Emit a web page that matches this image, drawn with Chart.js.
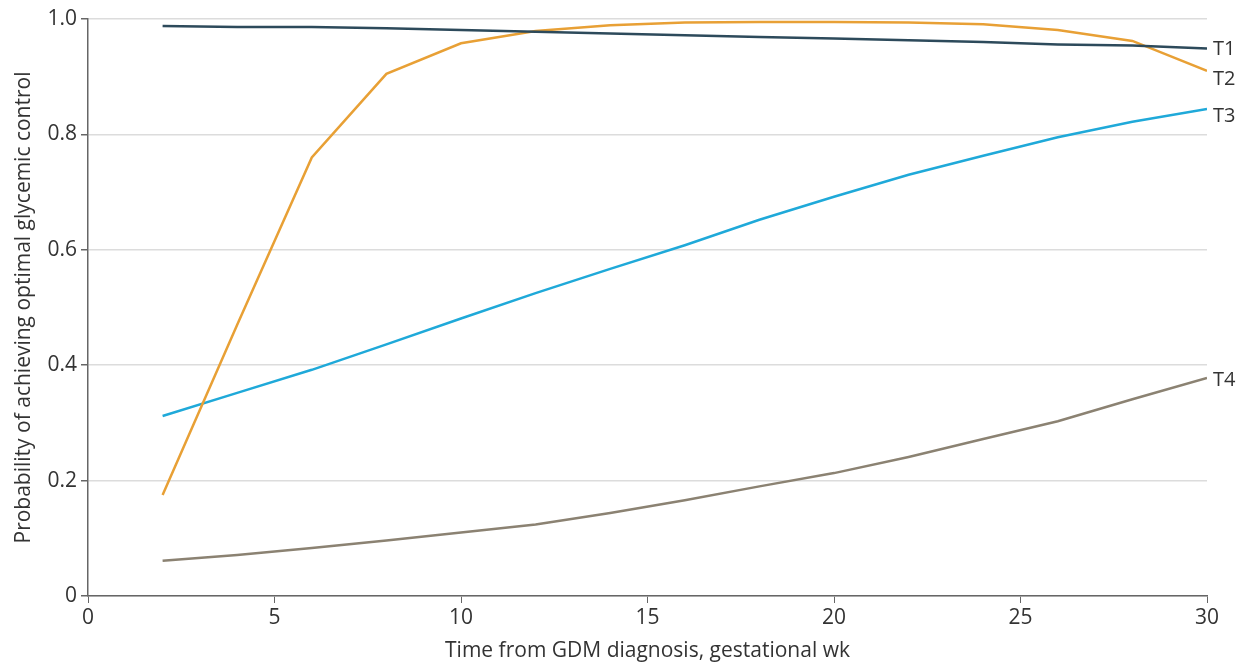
<!DOCTYPE html>
<html>
<head>
<meta charset="utf-8">
<script src="https://cdn.jsdelivr.net/npm/chart.js@4/dist/chart.umd.min.js"></script>
<style>
  html, body { margin: 0; padding: 0; background: #fff; }
  #wrap { width: 1243px; height: 668px; position: relative; }
</style>
</head>
<body>
<div id="wrap"><canvas id="chart"></canvas></div>
<script>
// Gestational weeks since GDM diagnosis
const weeks = [2, 4, 6, 8, 10, 12, 14, 16, 18, 20, 22, 24, 26, 28, 30];

// Probability of achieving optimal glycemic control, per trajectory
const t1 = [0.988, 0.986, 0.986, 0.984, 0.981, 0.978, 0.975, 0.972, 0.969, 0.966, 0.963, 0.960, 0.956, 0.954, 0.949];
const t2 = [0.175, 0.470, 0.760, 0.905, 0.958, 0.979, 0.989, 0.994, 0.995, 0.995, 0.994, 0.991, 0.981, 0.962, 0.910];
const t3 = [0.312, 0.352, 0.392, 0.436, 0.481, 0.525, 0.567, 0.608, 0.652, 0.692, 0.730, 0.763, 0.795, 0.822, 0.844];
const t4 = [0.061, 0.071, 0.083, 0.096, 0.110, 0.124, 0.144, 0.166, 0.190, 0.213, 0.241, 0.272, 0.303, 0.341, 0.378];

const seriesNames = ['T1', 'T2', 'T3', 'T4'];
const seriesColors = ['#2d4a5b', '#e8a035', '#1fa9d9', '#8b8272'];
// nudge for the end labels so T1/T2 don't collide
const labelOffsets = [1, 8, 7, 2];

const FONT = '"Open Sans", "Noto Sans", sans-serif';

function toPoints(vals) {
    return weeks.map((w, i) => ({ x: w, y: vals[i] }));
}

const endLabels = {
    id: 'endLabels',
    afterDatasetsDraw(chart) {
        const ctx = chart.ctx;
        ctx.save();
        ctx.font = '20px ' + FONT;
        ctx.fillStyle = '#333';
        ctx.textBaseline = 'middle';
        chart.data.datasets.forEach((ds, i) => {
            const last = ds.data[ds.data.length - 1];
            const x = chart.scales.x.getPixelForValue(last.x);
            const y = chart.scales.y.getPixelForValue(last.y);
            ctx.fillText(seriesNames[i], x + 6, y + labelOffsets[i]);
        });
        ctx.restore();
    }
};

new Chart(document.getElementById('chart'), {
    type: 'line',
    data: {
        datasets: [t1, t2, t3, t4].map((vals, i) => ({
            label: seriesNames[i],
            data: toPoints(vals),
            borderColor: seriesColors[i],
            borderWidth: 2.5,
            pointRadius: 0,
            tension: 0,
            fill: false
        }))
    },
    options: {
        responsive: true,
        maintainAspectRatio: false,
        animation: false,
        layout: { padding: { top: 19, right: 36, left: 7, bottom: 0 } },
        plugins: {
            legend: { display: false },
            tooltip: { enabled: false }
        },
        scales: {
            x: {
                type: 'linear',
                min: 0,
                max: 30,
                ticks: { stepSize: 5, color: '#333', font: { family: FONT, size: 21 }, padding: 2 },
                grid: { drawOnChartArea: false, drawTicks: true, tickLength: 7, color: '#666' },
                border: { color: '#666', width: 1.5 },
                title: { display: true, text: 'Time from GDM diagnosis, gestational wk', color: '#333', font: { family: FONT, size: 21 }, padding: { top: 4 } },
                afterFit(scale) { scale.height = 72; }
            },
            y: {
                min: 0,
                max: 1,
                ticks: {
                    stepSize: 0.2,
                    color: '#333',
                    font: { family: FONT, size: 21 },
                    padding: 4,
                    callback: v => (v === 0 ? '0' : v.toFixed(1))
                },
                grid: { color: '#dcdcdc', lineWidth: 1.5, drawTicks: true, tickLength: 7, tickColor: '#666' },
                border: { color: '#666', width: 1.5 },
                title: { display: true, text: 'Probability of achieving optimal glycemic control', color: '#333', font: { family: FONT, size: 21 }, padding: { bottom: 8 } },
                afterFit(scale) { scale.width = 81; }
            }
        }
    },
    plugins: [endLabels]
});
</script>
</body>
</html>
